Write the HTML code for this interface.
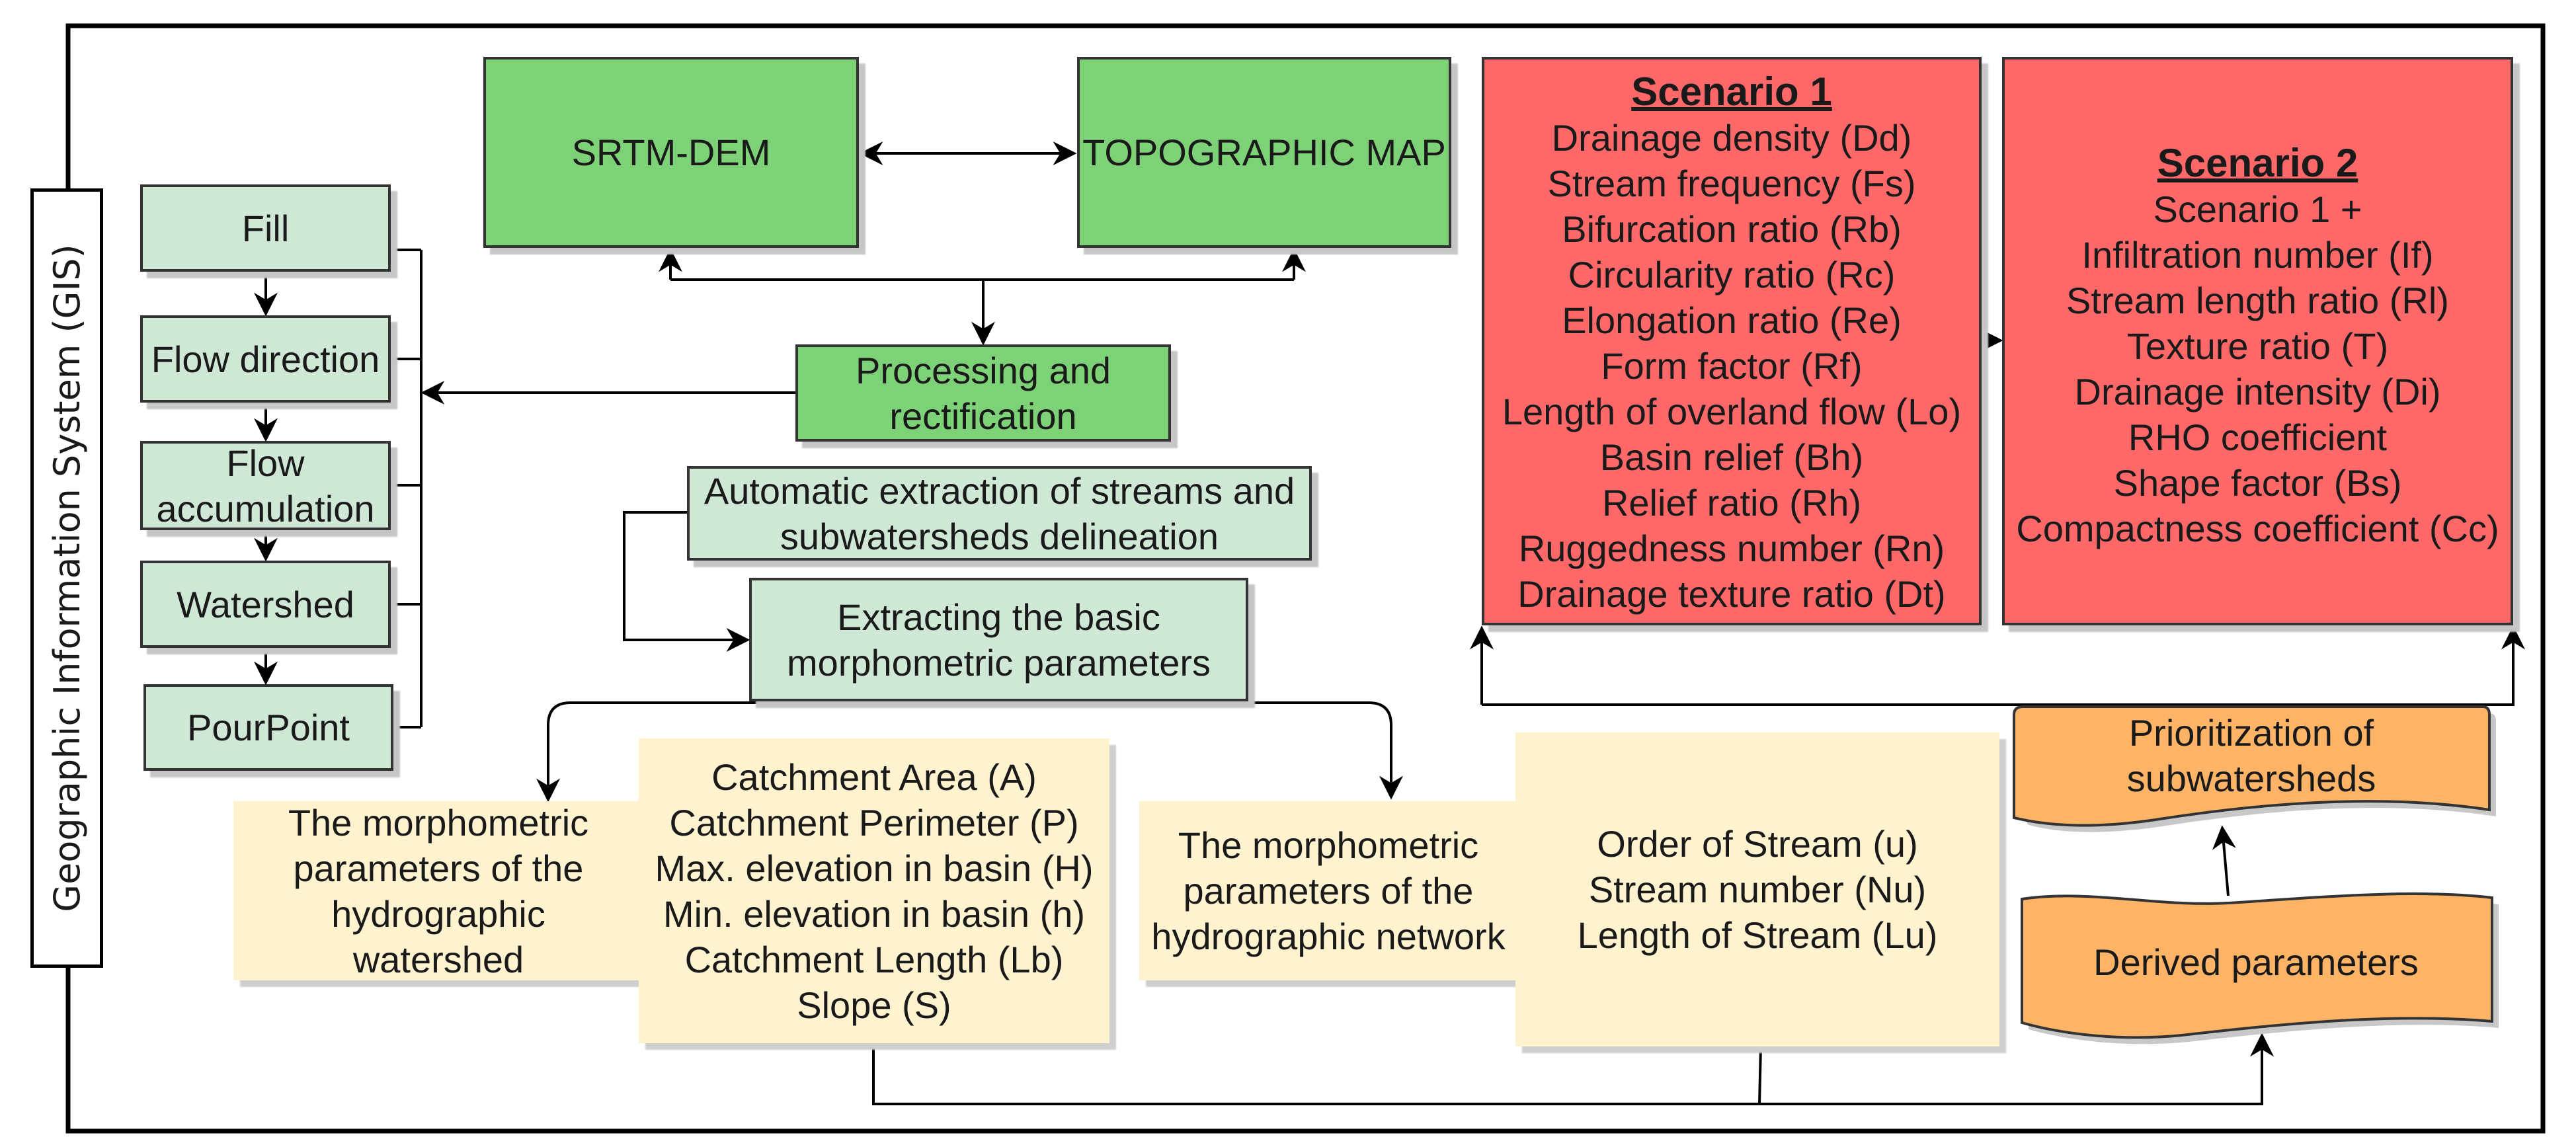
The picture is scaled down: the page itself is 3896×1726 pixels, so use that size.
<!DOCTYPE html>
<html><head><meta charset="utf-8"><style>
body{margin:0;width:3896px;height:1726px;background:#fff;position:relative;overflow:hidden;font-family:"Liberation Sans",sans-serif;color:#1a1a1a}
.b{position:absolute;box-sizing:border-box;display:flex;align-items:center;justify-content:center;text-align:center;font-size:56px;line-height:69px;box-shadow:10px 10px 2px #c6c6c6}
.g{background:#7dd177;border:4px solid #333}
.lg{background:#cfe8d6;border:4px solid #333}
.y{background:#fef2cf;box-shadow:10px 10px 2px #cfcfcf}
.r{background:#fe6868;border:4px solid #333;align-items:flex-start}
.t{font-weight:bold;text-decoration:underline;font-size:60px}
svg{position:absolute;left:0;top:0}
</style></head><body>
<svg width="3896" height="1726">
<defs>
<marker id="m" viewBox="0 0 10 10" refX="9" refY="5" markerWidth="36" markerHeight="36" orient="auto-start-reverse" markerUnits="userSpaceOnUse"><path d="M0,0 L10,5 L0,10 L3,5 Z" fill="#000"/></marker></defs>
<rect x="103" y="39" width="3743" height="1672" fill="none" stroke="#000" stroke-width="7"/>
<g fill="none" stroke="#000" stroke-width="4">
<path d="M1303,232 L1625,232" marker-end="url(#m)" marker-start="url(#m)"/>
<path d="M1014,423 L1957,423"/>
<path d="M1014,423 L1014,379" marker-end="url(#m)"/>
<path d="M1957,423 L1957,379" marker-end="url(#m)"/>
<path d="M1487,423 L1487,519" marker-end="url(#m)"/>
<path d="M402,411 L402,475" marker-end="url(#m)"/>
<path d="M402,609 L402,665" marker-end="url(#m)"/>
<path d="M402,802 L402,846" marker-end="url(#m)"/>
<path d="M402,980 L402,1033" marker-end="url(#m)"/>
<path d="M591,378 L637,378 M591,543 L637,543 M591,734 L637,734 M591,914 L637,914 M595,1100 L637,1100 M637,378 L637,1100"/>
<path d="M1203,594 L640,594" marker-end="url(#m)"/>
<path d="M1039,775 L944,775 L944,968 L1131,968" marker-end="url(#m)"/>
<path d="M2070,1063 Q2104,1063 2104,1097 L2104,1206" marker-end="url(#m)"/>
<path d="M2070,1063 L863,1063 Q829,1063 829,1097 L829,1210" marker-end="url(#m)"/>
<path d="M1321,1578 L1321,1670 L3421,1670 L3421,1566" marker-end="url(#m)"/>
<path d="M2663,1583 L2661,1670"/>
<path d="M2241,1066 L2241,950" marker-end="url(#m)"/>
<path d="M2241,1066 L3801,1066 L3801,950" marker-end="url(#m)"/>
<path d="M2997,515 L3026,515" marker-end="url(#m)"/>
<path d="M3370,1355 L3361,1252" marker-end="url(#m)"/>
</g>
<path d="M3056,1081 Q3056,1069 3070,1069 L3755,1069 Q3765,1069 3765,1081 L3765,1225 C3600,1200 3420,1215 3260,1240 C3160,1255 3090,1248 3056,1237 Z" fill="#c8c8c8" transform="translate(10,10)"/>
<path d="M3046,1081 Q3046,1069 3060,1069 L3755,1069 Q3765,1069 3765,1081 L3765,1225 C3600,1200 3420,1215 3260,1240 C3160,1255 3090,1248 3046,1237 Z" fill="#feb467" stroke="#333" stroke-width="4"/>
<path d="M3058,1360 C3160,1345 3260,1372 3370,1366 C3500,1358 3650,1344 3769,1358 L3769,1545 C3620,1532 3460,1548 3300,1566 C3200,1576 3110,1562 3058,1547 Z" fill="#c8c8c8" transform="translate(10,10)"/>
<path d="M3058,1360 C3160,1345 3260,1372 3370,1366 C3500,1358 3650,1344 3769,1358 L3769,1545 C3620,1532 3460,1548 3300,1566 C3200,1576 3110,1562 3058,1547 Z" fill="#feb467" stroke="#333" stroke-width="4"/>
<text x="3405" y="1128" font-size="56" text-anchor="middle" font-family="Liberation Sans" fill="#1a1a1a">Prioritization of</text>
<text x="3405" y="1197" font-size="56" text-anchor="middle" font-family="Liberation Sans" fill="#1a1a1a">subwatersheds</text>
<text x="3412" y="1475" font-size="56" text-anchor="middle" font-family="Liberation Sans" fill="#1a1a1a">Derived parameters</text>
</svg>
<div class="b" style="left:46px;top:285px;width:110px;height:1179px;border:5px solid #000;background:#fff;box-shadow:none"><div style="transform:rotate(-90deg);white-space:nowrap;font-family:'DejaVu Sans',sans-serif;font-size:54px">Geographic Information System (GIS)</div></div>
<div class="b g" style="left:731px;top:86px;width:568px;height:289px">SRTM-DEM</div>
<div class="b g" style="left:1629px;top:86px;width:566px;height:289px">TOPOGRAPHIC MAP</div>
<div class="b g" style="left:1203px;top:521px;width:568px;height:147px">Processing and<br>rectification</div>
<div class="b lg" style="left:212px;top:279px;width:379px;height:132px">Fill</div>
<div class="b lg" style="left:212px;top:477px;width:379px;height:132px">Flow direction</div>
<div class="b lg" style="left:212px;top:667px;width:379px;height:135px">Flow<br>accumulation</div>
<div class="b lg" style="left:212px;top:848px;width:379px;height:132px">Watershed</div>
<div class="b lg" style="left:217px;top:1035px;width:378px;height:131px">PourPoint</div>
<div class="b lg" style="left:1039px;top:705px;width:945px;height:143px">Automatic extraction of streams and<br>subwatersheds delineation</div>
<div class="b lg" style="left:1133px;top:874px;width:755px;height:187px">Extracting the basic<br>morphometric parameters</div>
<div class="b y" style="left:353px;top:1212px;width:620px;height:271px">The morphometric<br>parameters of the<br>hydrographic<br>watershed</div>
<div class="b y" style="left:966px;top:1117px;width:712px;height:461px">Catchment Area (A)<br>Catchment Perimeter (P)<br>Max. elevation in basin (H)<br>Min. elevation in basin (h)<br>Catchment Length (Lb)<br>Slope (S)</div>
<div class="b y" style="left:1723px;top:1212px;width:572px;height:271px">The morphometric<br>parameters of the<br>hydrographic network</div>
<div class="b y" style="left:2292px;top:1108px;width:732px;height:475px">Order of Stream (u)<br>Stream number (Nu)<br>Length of Stream (Lu)</div>
<div class="b r" style="left:2241px;top:86px;width:756px;height:860px;padding-top:14px"><div><span class="t">Scenario 1</span><br>Drainage density (Dd)<br>Stream frequency (Fs)<br>Bifurcation ratio (Rb)<br>Circularity ratio (Rc)<br>Elongation ratio (Re)<br>Form factor (Rf)<br>Length of overland flow (Lo)<br>Basin relief (Bh)<br>Relief ratio (Rh)<br>Ruggedness number (Rn)<br>Drainage texture ratio (Dt)</div></div>
<div class="b r" style="left:3028px;top:86px;width:773px;height:860px;padding-top:122px"><div><span class="t">Scenario 2</span><br>Scenario 1 +<br>Infiltration number (If)<br>Stream length ratio (Rl)<br>Texture ratio (T)<br>Drainage intensity (Di)<br>RHO coefficient<br>Shape factor (Bs)<br>Compactness coefficient (Cc)</div></div>
</body></html>
